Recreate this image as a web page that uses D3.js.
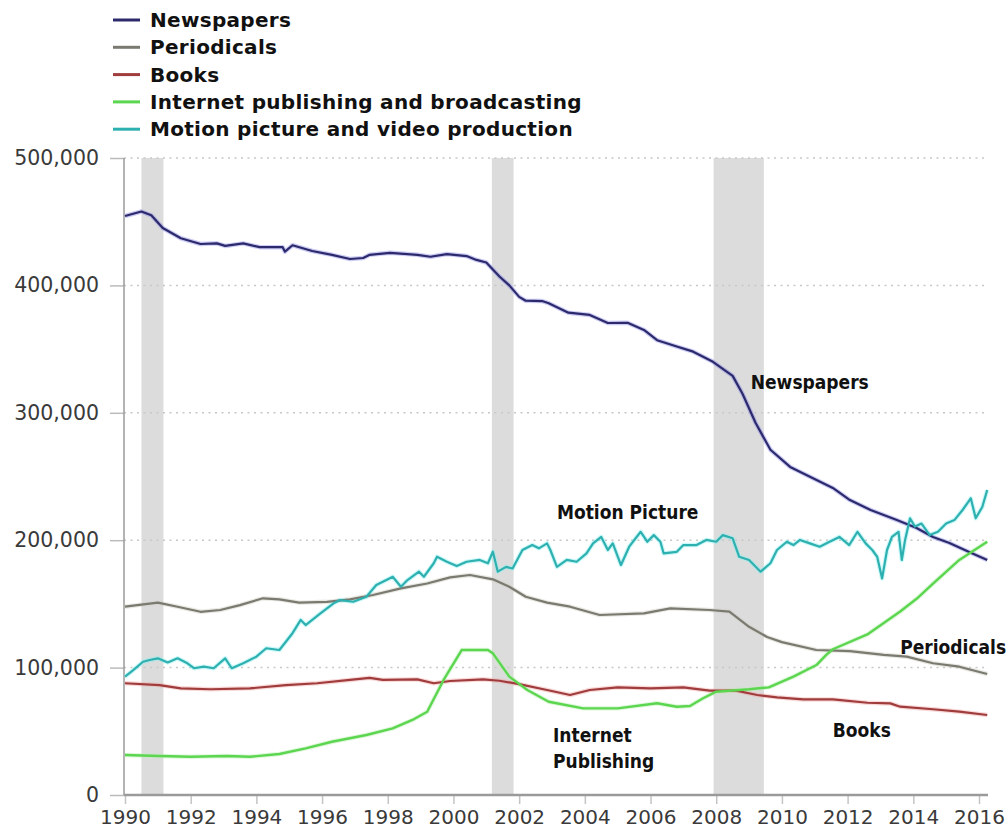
<!DOCTYPE html>
<html>
<head>
<meta charset="utf-8">
<script src="https://cdn.jsdelivr.net/npm/d3@7"></script>
<style>
  html, body { margin: 0; padding: 0; background: #fff; }
  svg { display: block; }
</style>
</head>
<body>
<svg id="chart" width="1008" height="833"></svg>
<script>
// ---------- DATA ----------
const seriesNames = ["Newspapers", "Periodicals", "Books", "Internet publishing and broadcasting", "Motion picture and video production"];
const yTicks = [0, 100000, 200000, 300000, 400000, 500000];
const xTicks = [1990, 1992, 1994, 1996, 1998, 2000, 2002, 2004, 2006, 2008, 2010, 2012, 2014, 2016];
const recessions = [[1990.5, 1991.17], [2001.17, 2001.83], [2007.92, 2009.45]];

// [decimal year, employees]
const newspapers = [[1990.0,454500],[1990.5,458000],[1990.8,455000],[1991.15,445000],[1991.7,437000],[1992.3,432500],[1992.8,433000],[1993.05,431000],[1993.6,433000],[1994.1,430000],[1994.8,430000],[1994.87,426500],[1995.1,431500],[1995.7,427000],[1996.3,424000],[1996.85,420700],[1997.25,421500],[1997.45,424000],[1998.07,425600],[1998.9,424000],[1999.3,422500],[1999.8,424600],[2000.4,423000],[2000.7,420000],[2001.0,418000],[2001.4,407000],[2001.7,400000],[2002.0,391000],[2002.2,388000],[2002.7,387700],[2002.9,386000],[2003.5,378600],[2004.15,376800],[2004.7,370500],[2005.3,370700],[2005.8,365000],[2006.2,357000],[2006.8,352000],[2007.3,348000],[2007.9,340000],[2008.5,329000],[2008.8,315000],[2009.2,292000],[2009.65,271000],[2010.25,257500],[2011.07,247000],[2011.55,241000],[2012.07,231500],[2012.7,223700],[2013.5,215800],[2014.1,209600],[2014.6,202500],[2015.1,197800],[2015.7,190700],[2016.25,184500]];

const periodicals = [[1990.0,147800],[1991.0,151000],[1991.6,147800],[1992.3,143800],[1992.9,145200],[1993.5,149000],[1994.2,154400],[1994.7,153600],[1995.3,151000],[1996.15,151600],[1996.85,153600],[1997.55,157000],[1998.4,162200],[1999.2,166000],[1999.9,170800],[2000.5,172700],[2001.2,169300],[2001.7,163500],[2002.2,155600],[2002.85,151000],[2003.55,147800],[2004.45,141300],[2005.8,142600],[2006.6,146500],[2007.8,145200],[2008.4,144000],[2009.0,132000],[2009.55,124000],[2010.0,120000],[2011.05,113800],[2012.07,113000],[2013.1,110000],[2013.8,108600],[2014.6,103400],[2015.4,100700],[2016.25,95000]];

const books = [[1990.0,87700],[1991.05,86300],[1991.7,83700],[1992.6,83000],[1993.8,83700],[1994.9,86300],[1995.85,87700],[1996.85,90300],[1997.45,92000],[1997.85,90300],[1998.9,90800],[1999.4,87700],[1999.9,89500],[2000.9,90800],[2001.4,89700],[2002.0,87000],[2002.85,82400],[2003.55,78500],[2004.15,82400],[2005.0,84500],[2006.0,83700],[2007.0,84500],[2007.8,81900],[2008.6,81900],[2009.25,78500],[2009.85,76700],[2010.65,75000],[2011.55,75000],[2012.6,72400],[2013.3,71900],[2013.6,69300],[2014.6,67300],[2015.4,65400],[2016.25,62800]];

const internet = [[1990.0,31400],[1991.05,30600],[1992.0,30000],[1993.1,30600],[1993.8,30000],[1994.7,32200],[1995.5,36600],[1996.3,41800],[1997.35,47100],[1998.15,52300],[1998.75,58900],[1999.2,65400],[1999.7,90300],[2000.25,113800],[2001.05,113800],[2001.2,111200],[2001.7,92900],[2002.25,82400],[2002.9,73200],[2003.95,68000],[2005.0,68000],[2006.2,72000],[2006.8,69300],[2007.2,69900],[2007.6,75900],[2008.0,81100],[2009.0,83000],[2009.6,84500],[2010.35,92900],[2011.05,102000],[2011.35,110000],[2011.55,114400],[2012.6,126000],[2013.6,144000],[2014.1,154000],[2014.6,166000],[2015.4,184500],[2016.25,198800]];

const motionPicture = [[1990.0,92900],[1990.25,98000],[1990.55,104600],[1990.75,106000],[1991.0,107300],[1991.3,104000],[1991.6,107300],[1991.9,103400],[1992.1,99500],[1992.4,100700],[1992.7,99500],[1993.05,107300],[1993.25,99500],[1993.6,103400],[1994.0,108600],[1994.3,115200],[1994.7,113800],[1995.1,127000],[1995.35,137400],[1995.5,133400],[1995.95,142600],[1996.35,150500],[1996.55,153000],[1996.95,151700],[1997.35,155600],[1997.65,164800],[1998.05,170000],[1998.15,171300],[1998.4,163500],[1998.6,168700],[1998.95,175300],[1999.1,171300],[1999.4,181900],[1999.5,187000],[1999.8,183100],[2000.1,179700],[2000.4,183100],[2000.8,184500],[2001.05,181900],[2001.2,191000],[2001.35,175300],[2001.6,179100],[2001.8,177800],[2002.1,192300],[2002.4,196200],[2002.6,193600],[2002.85,197500],[2002.95,192300],[2003.15,179100],[2003.45,184500],[2003.75,183100],[2004.05,189600],[2004.25,197500],[2004.5,202600],[2004.7,192300],[2004.85,197500],[2005.1,180500],[2005.35,194900],[2005.7,206600],[2005.9,198800],[2006.1,204000],[2006.3,198800],[2006.4,189600],[2006.8,190900],[2007.0,196200],[2007.4,196200],[2007.7,200200],[2008.0,198800],[2008.2,204000],[2008.5,201500],[2008.7,187000],[2009.0,184500],[2009.35,175300],[2009.65,181900],[2009.85,192300],[2010.15,198800],[2010.35,196200],[2010.55,200200],[2010.85,197500],[2011.15,194900],[2011.45,198800],[2011.75,202600],[2012.05,196200],[2012.3,206600],[2012.55,197500],[2012.75,192300],[2012.9,187000],[2013.05,170000],[2013.2,192300],[2013.35,202600],[2013.55,206600],[2013.65,184500],[2013.75,200200],[2013.9,217200],[2014.05,210700],[2014.25,213100],[2014.5,204000],[2014.75,206600],[2015.0,213100],[2015.25,215800],[2015.5,223700],[2015.75,232900],[2015.9,217200],[2016.1,226100],[2016.25,239400]];

const seriesColors = ["#2c2a6c", "#7a7a70", "#a03c3c", "#5cd650", "#2fb0b0"];
const annotations = [
  {text: "Newspapers", year: 2009.05, value: 318500},
  {text: "Motion Picture", year: 2003.15, value: 217000},
  {text: "Periodicals", year: 2013.6, value: 111000},
  {text: "Internet", year: 2003.03, value: 41500},
  {text: "Publishing", year: 2003.03, value: 21000},
  {text: "Books", year: 2011.55, value: 45500}
];

// ---------- DRAW ----------
const svg = d3.select("#chart");
const x = d3.scaleLinear().domain([1990, 2016]).range([125, 979]);
const y = d3.scaleLinear().domain([0, 500000]).range([795, 158]);
const xEnd = 988;

// recession bands
svg.append("g").selectAll("rect").data(recessions).join("rect")
  .attr("x", d => x(d[0])).attr("width", d => x(d[1]) - x(d[0]))
  .attr("y", y(500000)).attr("height", y(0) - y(500000))
  .attr("fill", "#dcdcdc");

// gridlines (dotted)
svg.append("g").selectAll("line").data(yTicks.filter(d => d > 0)).join("line")
  .attr("x1", 124).attr("x2", xEnd)
  .attr("y1", d => y(d)).attr("y2", d => y(d))
  .attr("stroke", "#c8c8c8").attr("stroke-width", 1.5)
  .attr("stroke-dasharray", "2,4.5");

// y axis
const yAxis = d3.axisLeft(y).tickValues(yTicks).tickSize(14).tickPadding(11)
  .tickFormat(d3.format(","));
const gy = svg.append("g").attr("transform", "translate(124,0)").call(yAxis);
gy.select(".domain").remove();
gy.selectAll(".tick line").attr("stroke", "#bbbbbb").attr("stroke-width", 1.5);
gy.selectAll(".tick text").attr("fill", "#3a3a3a").style("font-family", "'DejaVu Sans', Verdana, sans-serif")
  .style("font-size", "20.5px");
svg.append("line").attr("x1", 124).attr("x2", 124).attr("y1", y(500000)).attr("y2", y(0))
  .attr("stroke", "#9a9a9a").attr("stroke-width", 1.5);

// x axis
const xAxis = d3.axisBottom(x).tickValues(xTicks).tickSize(9).tickPadding(6).tickFormat(d3.format("d"));
const gx = svg.append("g").attr("transform", `translate(0,${y(0)})`).call(xAxis);
gx.select(".domain").remove();
gx.selectAll(".tick line").attr("stroke", "#c4c4c4").attr("stroke-width", 1.5);
gx.selectAll(".tick text").attr("fill", "#3a3a3a").style("font-family", "'DejaVu Sans', Verdana, sans-serif")
  .style("font-size", "20px");
svg.append("line").attr("x1", 124).attr("x2", xEnd).attr("y1", y(0)).attr("y2", y(0))
  .attr("stroke", "#9a9a9a").attr("stroke-width", 2.5);

// lines
const allSeries = [newspapers, periodicals, books, internet, motionPicture];
const line = d3.line().x(d => x(d[0])).y(d => y(d[1])).curve(d3.curveLinear);
const haloColors = ["#8c8ce6", "#cfcfc4", "#f0a8a8", "#b8f0b0", "#8ff0f0"];
const gl = svg.append("g");
allSeries.forEach((s, i) => {
  gl.append("path").datum(s).attr("d", line).attr("fill", "none")
    .attr("stroke", haloColors[i]).attr("stroke-width", 4.5).attr("stroke-opacity", 0.45)
    .attr("stroke-linejoin", "round");
});
allSeries.forEach((s, i) => {
  gl.append("path").datum(s).attr("d", line).attr("fill", "none")
    .attr("stroke", seriesColors[i]).attr("stroke-width", i === 3 ? 2.4 : 2.2)
    .attr("stroke-linejoin", "round");
});

// annotations
svg.append("g").selectAll("text").data(annotations).join("text")
  .attr("x", d => x(d.year)).attr("y", d => y(d.value))
  .text(d => d.text)
  .attr("fill", "#111")
  .style("font-family", "'DejaVu Sans Condensed', 'DejaVu Sans', sans-serif")
  .style("font-stretch", "condensed")
  .style("font-weight", "bold").style("font-size", "19px");

// legend
const legend = svg.append("g").selectAll("g").data(seriesNames).join("g")
  .attr("transform", (d, i) => `translate(0,${27 + i * 27.3})`);
legend.append("line").attr("x1", 113).attr("x2", 140).attr("y1", -7).attr("y2", -7)
  .attr("stroke", (d, i) => seriesColors[i]).attr("stroke-width", 3);
legend.append("text").attr("x", 150).attr("y", 0).text(d => d)
  .attr("fill", "#111")
  .style("font-family", "'DejaVu Sans', Verdana, sans-serif")
  .style("letter-spacing", "0.3px")
  .style("font-weight", "bold").style("font-size", "20px");
</script>
</body>
</html>
